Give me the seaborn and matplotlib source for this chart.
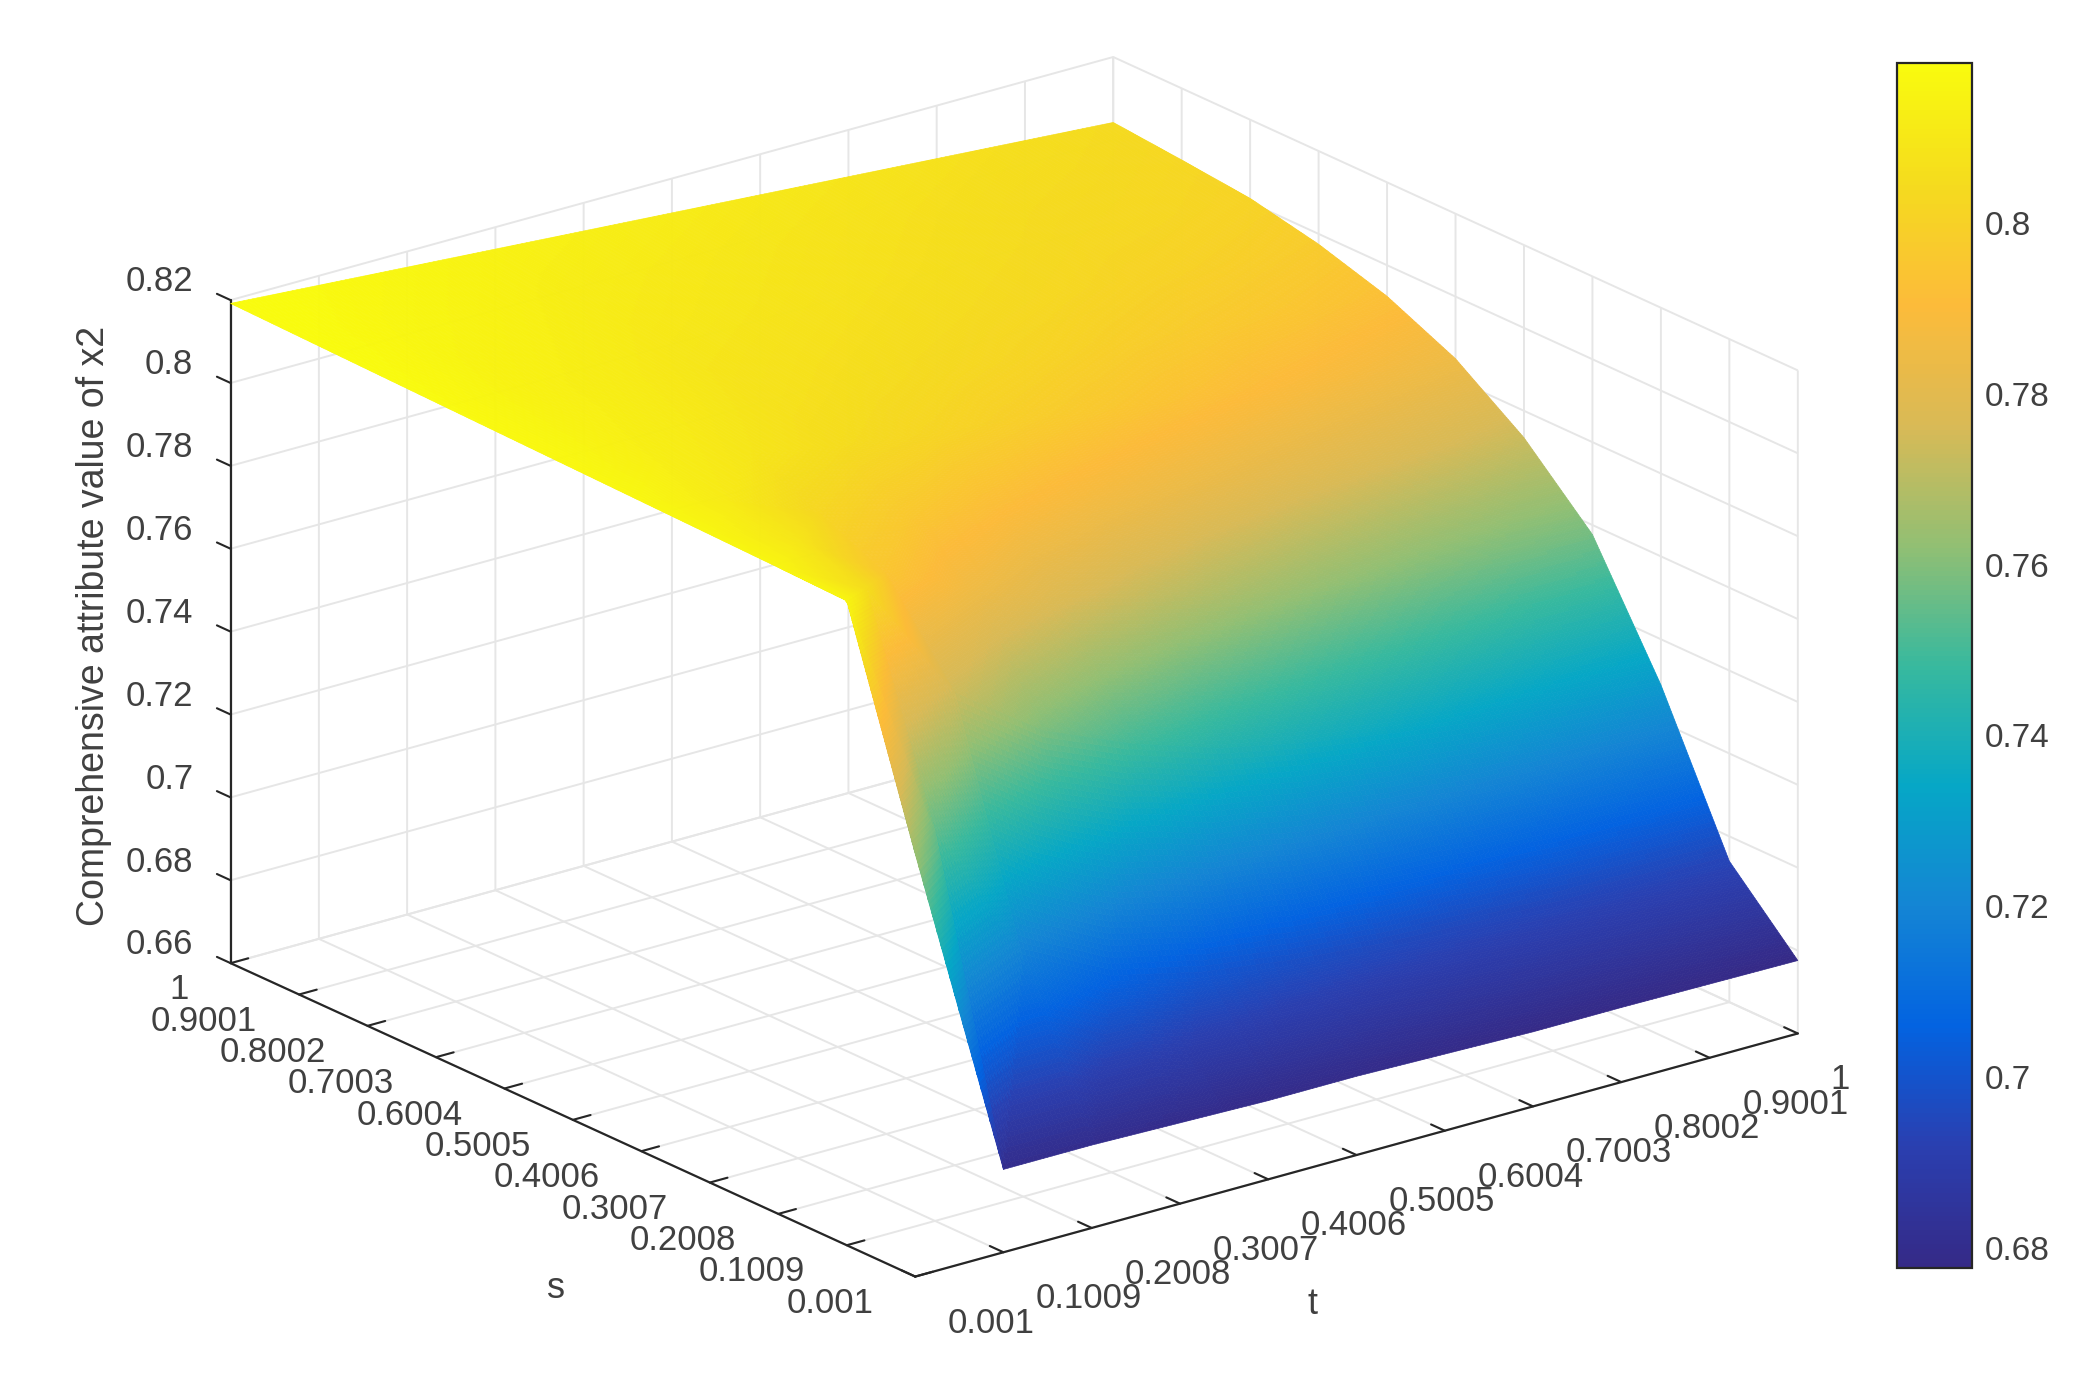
import numpy as np
import matplotlib
matplotlib.use("Agg")
import matplotlib.pyplot as plt
from matplotlib.colors import Normalize
from matplotlib.cm import ScalarMappable
from matplotlib.ticker import FuncFormatter
import seaborn as sns

##--- data
t_values = [0.001, 0.1009, 0.2008, 0.3007, 0.4006, 0.5005, 0.6004, 0.7003, 0.8002, 0.9001, 1]
s_values = [0.001, 0.1009, 0.2008, 0.3007, 0.4006, 0.5005, 0.6004, 0.7003, 0.8002, 0.9001, 1]
tick_labels = ["0.001", "0.1009", "0.2008", "0.3007", "0.4006", "0.5005", "0.6004", "0.7003", "0.8002", "0.9001", "1"]

# one row for each s, one column for each t
z_s000 = [.7620, .6800, .6800, .6795, .6790, .6790, .6785, .6780, .6780, .6778, .6776]
z_s010 = [.8155, .7540, .7170, .7060, .7010, .6980, .6960, .6950, .6945, .6942, .6940]
z_s020 = [.8160, .8050, .7740, .7590, .7500, .7430, .7385, .7350, .7320, .7300, .7290]
z_s030 = [.8164, .8090, .7950, .7850, .7775, .7715, .7665, .7625, .7595, .7580, .7577]
z_s040 = [.8168, .8110, .8025, .7965, .7915, .7875, .7840, .7810, .7785, .7760, .7735]
z_s050 = [.8172, .8130, .8090, .8050, .8020, .7990, .7960, .7930, .7900, .7875, .7850]
z_s060 = [.8176, .8140, .8110, .8075, .8055, .8035, .8015, .7990, .7970, .7950, .7925]
z_s070 = [.8180, .8145, .8120, .8090, .8075, .8060, .8045, .8030, .8010, .7995, .7975]
z_s080 = [.8184, .8155, .8135, .8110, .8095, .8080, .8065, .8050, .8035, .8025, .8010]
z_s090 = [.8188, .8165, .8150, .8125, .8110, .8095, .8080, .8065, .8050, .8040, .8027]
z_s100 = [.8192, .8177, .8162, .8147, .8132, .8117, .8102, .8087, .8072, .8057, .8042]

z_ticks = [0.66, 0.68, 0.7, 0.72, 0.74, 0.76, 0.78, 0.8, 0.82]
cbar_ticks = [0.68, 0.7, 0.72, 0.74, 0.76, 0.78, 0.8]
parula = ["#352A87", "#2A3FB0", "#0363E1", "#1485D4", "#06A7C6", "#38B99E",
          "#92BF73", "#D9BA56", "#FCBB3A", "#F5DB1E", "#F9FB0E"]
##---


def refine(a, n_s=40, n_t=20):
    # matplotlib has no interp shading, so the table gets finer cells for drawing only.
    # each cell is two flat triangles, bilinear patches fold out at the steep corner
    u = np.linspace(0, a.shape[0] - 1, (a.shape[0] - 1) * n_s + 1)
    v = np.linspace(0, a.shape[1] - 1, (a.shape[1] - 1) * n_t + 1)
    U, V = np.meshgrid(u, v, indexing="ij")
    i = np.minimum(U.astype(int), a.shape[0] - 2)
    j = np.minimum(V.astype(int), a.shape[1] - 2)
    fu, fv = U - i, V - j
    upper = a[i, j] + fu * (a[i + 1, j + 1] - a[i, j + 1]) + fv * (a[i, j + 1] - a[i, j])
    lower = a[i, j] + fu * (a[i + 1, j] - a[i, j]) + fv * (a[i + 1, j + 1] - a[i + 1, j])
    return np.where(fu <= fv, upper, lower)


sns.set_theme(style="white", rc={"grid.color": "#e6e6e6", "grid.linewidth": 1.4,
                                 "axes.edgecolor": "#262626", "axes3d.grid": True})
text_color = "#404040"
plt.rcParams["font.family"] = ["Liberation Sans", "DejaVu Sans"]
plt.rcParams["font.size"] = 25

Z = np.array([z_s000, z_s010, z_s020, z_s030, z_s040, z_s050,
              z_s060, z_s070, z_s080, z_s090, z_s100])
T, S = np.meshgrid(t_values, s_values)

cmap = sns.blend_palette(parula, n_colors=256, as_cmap=True)
norm = Normalize(0.6776, 0.8188)

fig = plt.figure(figsize=(21, 13.8), dpi=100)
ax = fig.add_axes([151 / 2100, -150 / 1380, 1681 / 2100, 1681 / 1380], projection="3d")
ax.set_proj_type("ortho")
ax.view_init(elev=20.8, azim=-127.8)
ax.set_box_aspect((1, 1, 0.635))

ax.plot_surface(refine(T), refine(S), refine(Z), rstride=1, cstride=1,
                facecolors=cmap(norm(refine(Z))), shade=False, linewidth=0.5)

ax.set_xlim(0.001, 1, view_margin=0)
ax.set_ylim(0.001, 1, view_margin=0)
ax.set_zlim(0.66, 0.82, view_margin=0)
ax.set_xticks(t_values, tick_labels)
ax.set_yticks(s_values, tick_labels)
ax.set_zticks(z_ticks, [f"{v:g}" for v in z_ticks])
ax.zaxis._get_tickdir = lambda pos: 1  # z ticks point along s like in matlab

for axis in (ax.xaxis, ax.yaxis, ax.zaxis):
    axis.set_pane_color((1, 1, 1, 0))
    axis.pane.set_edgecolor((1, 1, 1, 0))
    axis.line.set_color("#262626")
    axis.line.set_linewidth(1.6)
    axis._axinfo["tick"]["inward_factor"] = 0
    axis._axinfo["tick"]["outward_factor"] = 0.25
    axis._axinfo["tick"]["color"] = "#262626"
    axis._axinfo["tick"]["linewidth"] = {True: 1.5, False: 1.5}
ax.tick_params(labelsize=25, labelcolor=text_color)
ax.xaxis.set_tick_params(pad=22)
ax.yaxis.set_tick_params(pad=22)
ax.zaxis.set_tick_params(pad=7)
plt.setp(ax.xaxis.get_ticklabels(), ha="left", va="center")
plt.setp(ax.yaxis.get_ticklabels(), ha="right", va="bottom")
plt.setp(ax.zaxis.get_ticklabels(), ha="right", va="bottom")

ax.text2D(556 / 2100, 1 - 1289 / 1380, "s", transform=fig.transFigure, color=text_color,
          fontsize=26, ha="center", va="center")
ax.text2D(1312 / 2100, 1 - 1305 / 1380, "t", transform=fig.transFigure, color=text_color,
          fontsize=26, ha="center", va="center")
ax.zaxis.set_rotate_label(False)
ax.set_zlabel("Comprehensive attribute value of x2", rotation=90, color=text_color,
              fontsize=27, labelpad=34)

cax = fig.add_axes([1897 / 2100, 1 - 1268 / 1380, 75 / 2100, 1205 / 1380])
cb = fig.colorbar(ScalarMappable(norm=norm, cmap=cmap), cax=cax, ticks=cbar_ticks)
cb.ax.yaxis.set_major_formatter(FuncFormatter(lambda v, p: f"{v:g}"))
cb.ax.tick_params(direction="in", length=9, width=1.5, color="#262626",
                  labelsize=24, labelcolor=text_color, pad=9, right=True)
cb.outline.set_edgecolor("#262626")
cb.outline.set_linewidth(1.6)

fig.savefig("out.png", dpi=100)
